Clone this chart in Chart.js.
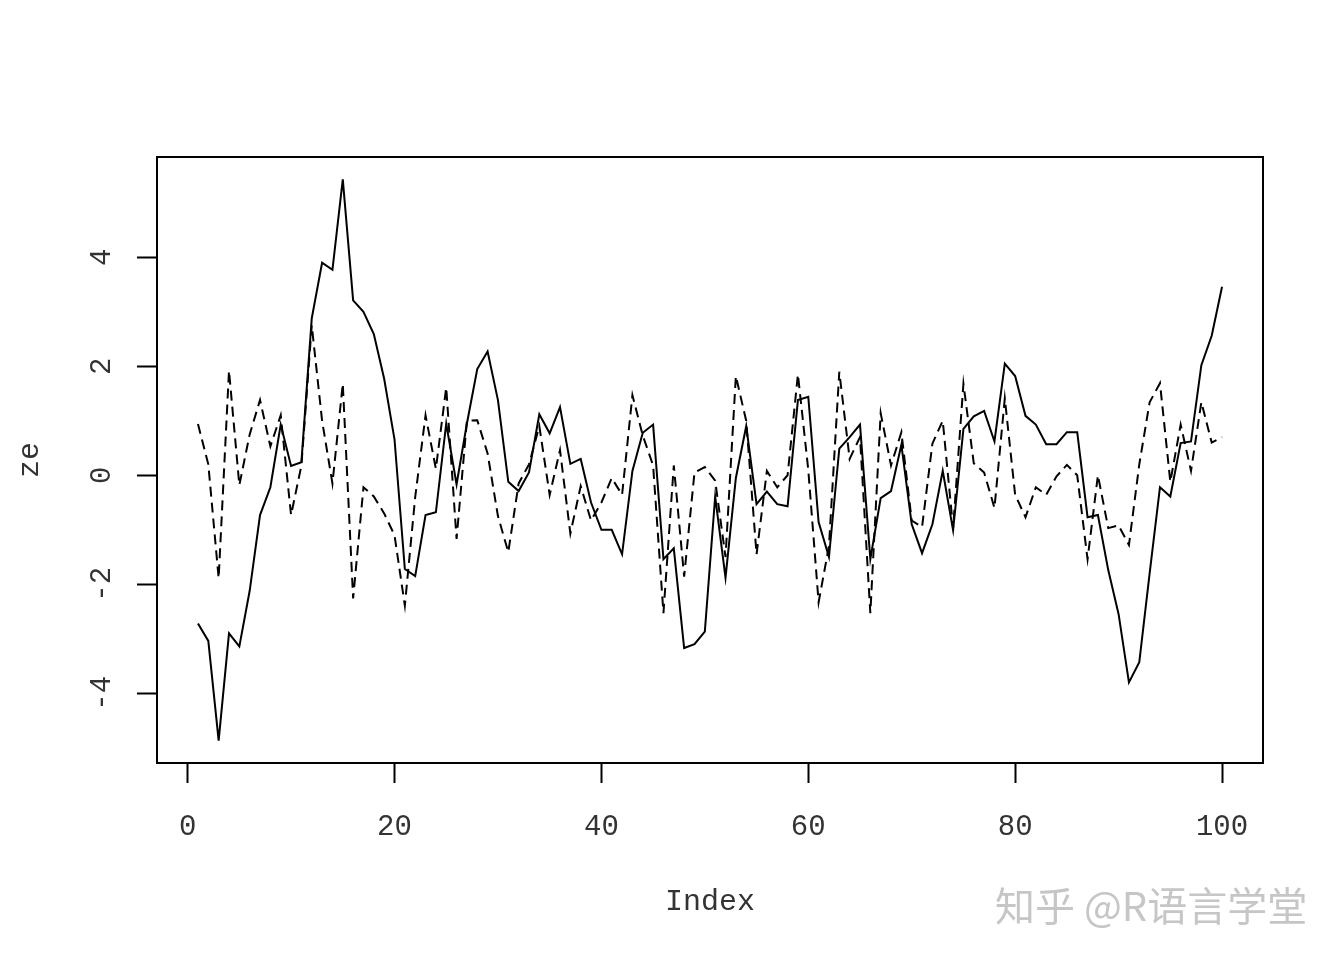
<!DOCTYPE html>
<html>
<head>
<meta charset="utf-8">
<script src="https://cdn.jsdelivr.net/npm/chart.js@4"></script>
<style>
  html, body { margin: 0; padding: 0; background: #fff; }
  #wrap { width: 1344px; height: 960px; }
</style>
</head>
<body>
<div id="wrap"><canvas id="myChart" width="1344" height="960"></canvas></div>
<script>
/* data: two series plotted against Index 1..100 */
const seriesSolid = [
    -2.72, -3.04, -4.87, -2.90, -3.14, -2.12, -0.73, -0.22, 0.93, 0.17,
    0.24, 2.88, 3.90, 3.77, 5.43, 3.21, 3.00, 2.59, 1.77, 0.66,
    -1.72, -1.85, -0.73, -0.68, 0.95, -0.17, 0.95, 1.95, 2.27, 1.38,
    -0.12, -0.29, 0.05, 1.12, 0.77, 1.25, 0.21, 0.30, -0.50, -1.00,
    -1.00, -1.45, 0.08, 0.78, 0.93, -1.54, -1.34, -3.17, -3.10, -2.87,
    -0.39, -1.88, -0.05, 0.90, -0.53, -0.30, -0.53, -0.57, 1.38, 1.44,
    -0.86, -1.50, 0.49, 0.70, 0.93, -1.54, -0.42, -0.29, 0.56, -0.90,
    -1.43, -0.90, 0.08, -1.01, 0.85, 1.08, 1.18, 0.62, 2.05, 1.82,
    1.09, 0.93, 0.57, 0.57, 0.79, 0.79, -0.77, -0.73, -1.74, -2.55,
    -3.80, -3.43, -1.80, -0.22, -0.39, 0.59, 0.62, 2.02, 2.56, 3.46
];
const seriesDashed = [
    0.94, 0.20, -1.89, 1.92, -0.18, 0.75, 1.38, 0.53, 1.10, -0.73,
    0.18, 2.75, 1.00, -0.15, 1.68, -2.26, -0.22, -0.39, -0.70, -1.10,
    -2.39, -0.40, 1.10, 0.12, 1.61, -1.17, 1.00, 1.01, 0.40, -0.75,
    -1.41, -0.15, 0.20, 0.90, -0.36, 0.46, -1.07, -0.20, -0.83, -0.50,
    -0.05, -0.36, 1.47, 0.73, 0.18, -2.53, 0.18, -1.86, 0.05, 0.15,
    -0.10, -1.50, 1.82, 1.00, -1.45, 0.08, -0.22, 0.00, 1.85, 0.10,
    -2.33, -1.30, 1.90, 0.30, 0.70, -2.53, 1.14, 0.18, 0.79, -0.83,
    -0.95, 0.58, 1.00, -0.97, 1.68, 0.22, 0.05, -0.60, 1.41, -0.36,
    -0.77, -0.22, -0.36, -0.02, 0.19, 0.00, -1.54, 0.00, -0.97, -0.92,
    -1.28, 0.20, 1.34, 1.69, -0.12, 0.93, 0.08, 1.34, 0.60, 0.70
];
const xTicks = [0, 20, 40, 60, 80, 100];
const yTicks = [-4, -2, 0, 2, 4];

const fontFamily = '"Liberation Mono", "DejaVu Sans Mono", monospace';
const textColor = '#333333';

function toPoints(values) {
    return values.map(function(v, i) {
        return { x: i + 1, y: v };
    });
}

// cadre autour de la zone du graphique + filigrane
const boxPlugin = {
    id: 'boxPlugin',
    afterDraw: function(chart) {
        const ctx = chart.ctx;
        const a = chart.chartArea;
        ctx.save();
        ctx.strokeStyle = '#000';
        ctx.lineWidth = 2;
        ctx.strokeRect(a.left, a.top, a.right - a.left, a.bottom - a.top);
        ctx.font = '40px "Noto Sans CJK SC"';
        ctx.fillStyle = '#c6c6c6';
        ctx.textBaseline = 'middle';
        ctx.textAlign = 'left';
        ctx.fillText('知乎 @R语言学堂', 995, 906);
        ctx.restore();
    }
};

const ctx = document.getElementById('myChart').getContext('2d');
const myChart = new Chart(ctx, {
    type: 'line',
    data: {
        datasets: [{
            label: 'solid',
            data: toPoints(seriesSolid),
            borderColor: '#000',
            borderWidth: 2,
            pointRadius: 0,
            tension: 0
        }, {
            label: 'dashed',
            data: toPoints(seriesDashed),
            borderColor: '#000',
            borderWidth: 2,
            borderDash: [10, 6],
            pointRadius: 0,
            tension: 0
        }]
    },
    options: {
        responsive: false,
        animation: false,
        layout: {
            padding: { top: 157, right: 81, left: 0, bottom: 0 }
        },
        plugins: {
            legend: { display: false },
            tooltip: { enabled: false }
        },
        scales: {
            x: {
                type: 'linear',
                min: -2.96,
                max: 103.96,
                afterBuildTicks: function(scale) {
                    scale.ticks = xTicks.map(function(v) { return { value: v }; });
                },
                afterFit: function(scale) { scale.height = 197; },
                border: { display: false },
                grid: {
                    drawOnChartArea: false,
                    drawTicks: true,
                    tickLength: 20,
                    tickColor: '#000',
                    tickWidth: 2
                },
                ticks: {
                    color: textColor,
                    padding: 27,
                    maxRotation: 0,
                    font: { family: fontFamily, size: 29 }
                },
                title: {
                    display: true,
                    text: 'Index',
                    color: textColor,
                    padding: { top: 0, bottom: 40 },
                    font: { family: fontFamily, size: 30 }
                }
            },
            y: {
                type: 'linear',
                min: -5.28,
                max: 5.84,
                afterBuildTicks: function(scale) {
                    scale.ticks = yTicks.map(function(v) { return { value: v }; });
                },
                afterFit: function(scale) { scale.width = 157; },
                border: { display: false },
                grid: {
                    drawOnChartArea: false,
                    drawTicks: true,
                    tickLength: 20,
                    tickColor: '#000',
                    tickWidth: 2
                },
                ticks: {
                    color: textColor,
                    padding: 17,
                    minRotation: 90,
                    maxRotation: 90,
                    crossAlign: 'center',
                    font: { family: fontFamily, size: 29 }
                },
                title: {
                    display: true,
                    text: 'ze',
                    color: textColor,
                    padding: { top: 12, bottom: 0 },
                    font: { family: fontFamily, size: 30 }
                }
            }
        }
    },
    plugins: [boxPlugin]
});
</script>
</body>
</html>
